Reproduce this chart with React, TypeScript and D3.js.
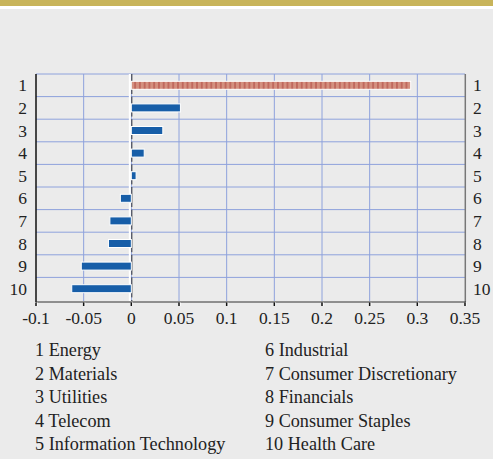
import React from "react";
import { scaleLinear, scaleBand, range } from "d3";

const sectors = [
  "Energy",
  "Materials",
  "Utilities",
  "Telecom",
  "Information Technology",
  "Industrial",
  "Consumer Discretionary",
  "Financials",
  "Consumer Staples",
  "Health Care",
];
const values = [0.293, 0.0515, 0.033, 0.0135, 0.005, -0.0115, -0.0225, -0.024, -0.0525, -0.0625];
const xTicks = [-0.1, -0.05, 0, 0.05, 0.1, 0.15, 0.2, 0.25, 0.3, 0.35];

const W = 493;
const H = 459;
const font = "'Liberation Serif', 'Times New Roman', serif";

const App: React.FC = () => {
  const x = scaleLinear().domain([-0.1, 0.35]).range([36, 465]);
  const y = scaleBand<number>().domain(range(10)).range([74, 300]);
  const bh = 8;

  return (
    <svg
      width={W}
      height={H}
      style={{ position: "absolute", left: 0, top: 0 }}
      fontFamily={font}
    >
      <defs>
        <pattern id="hatch" patternUnits="userSpaceOnUse" width={4.76} height={10} x={x(0)}>
          <rect width={4.76} height={10} fill="#D4907F" />
          <rect x={3.2} width={1.2} height={10} fill="#B5524A" />
        </pattern>
      </defs>
      <rect width={W} height={H} fill="#EBEBEB" />
      <rect width={W} height={6} fill="#C8B45A" />
      <rect y={6} width={W} height={3} fill="#FFFFFF" />

      {/* grid */}
      {xTicks.slice(1, -1).map((t) => (
        <line key={t} x1={x(t)} x2={x(t)} y1={74} y2={301} stroke="#8EA2DC" strokeWidth={1} />
      ))}
      {range(10).map((i) => (
        <line key={i} x1={36} x2={465} y1={y(i)!} y2={y(i)!} stroke="#8EA2DC" strokeWidth={1} />
      ))}

      {/* zero line */}
      <line x1={x(0) - 1.5} x2={x(0) - 1.5} y1={74} y2={301} stroke="#FFFFFF" strokeWidth={2} />
      <line x1={x(0) + 0.5} x2={x(0) + 0.5} y1={74} y2={301} stroke="#333" strokeWidth={1} strokeDasharray="20 2.6" />

      {/* bars */}
      {values.map((v, i) => {
        const cy = y(i)! + y.bandwidth() / 2;
        const x0 = x(Math.min(0, v));
        const w = Math.abs(x(v) - x(0));
        return (
          <rect
            key={i}
            x={x0}
            y={cy - bh / 2}
            width={w}
            height={bh}
            fill={i === 0 ? "url(#hatch)" : "#175EA8"}
            stroke="#FFFFFF"
            strokeWidth={1}
          />
        );
      })}

      {/* axes */}
      <line x1={36} x2={36} y1={74} y2={302} stroke="#111" strokeWidth={1.5} />
      <line x1={465.3} x2={465.3} y1={74} y2={302} stroke="#777" strokeWidth={1.5} />
      <line x1={36} x2={466} y1={302} y2={302} stroke="#333" strokeWidth={1} />
      {xTicks.map((t) => (
        <g key={t}>
          <line x1={x(t) + 1.2} x2={x(t) + 1.2} y1={302.5} y2={306} stroke="#FFFFFF" strokeWidth={1} />
          <line x1={x(t)} x2={x(t)} y1={302.5} y2={306} stroke="#111" strokeWidth={1.5} />
          <text x={x(t)} y={324} textAnchor="middle" fontSize={17.5} fill="#222">
            {t}
          </text>
        </g>
      ))}

      {/* row labels */}
      {range(10).map((i) => {
        const cy = y(i)! + y.bandwidth() / 2 + 6;
        return (
          <g key={i} fontSize={17.5} fill="#222">
            <text x={27} y={cy} textAnchor="end">
              {i + 1}
            </text>
            <text x={473} y={cy}>
              {i + 1}
            </text>
          </g>
        );
      })}

      {/* legend */}
      {sectors.map((s, i) => (
        <text
          key={s}
          x={i < 5 ? 35 : 265}
          y={356 + (i % 5) * 23.5}
          fontSize={18.2}
          fill="#222"
        >
          {`${i + 1} ${s}`}
        </text>
      ))}
    </svg>
  );
};

export default App;
